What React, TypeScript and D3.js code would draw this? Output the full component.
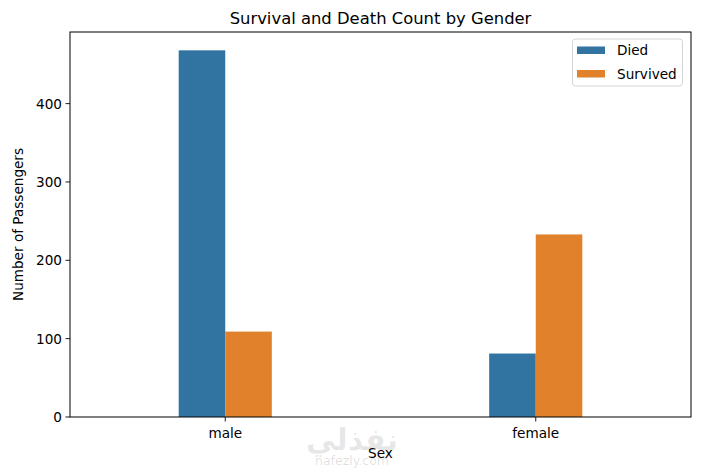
import React from "react";
import * as d3 from "d3";

const categories = ["male", "female"];
const seriesNames = ["Died", "Survived"];
const died = [468, 81];
const survived = [109, 233];
const yTicks = [0, 100, 200, 300, 400];
const colors = ["#3274a1", "#e1812c"];

const W = 705, H = 470;
const m = { left: 70, right: 691, top: 32, bottom: 417 };
const FONT = "DejaVu Sans, sans-serif";
const FS = 13.6;

export default function App() {
  const x = d3.scaleLinear().domain([-0.5, categories.length - 0.5]).range([m.left, m.right]);
  const y = d3.scaleLinear().domain([0, 468 * 1.05]).range([m.bottom, m.top]);
  const series = [died, survived];
  const barW = 0.15;
  return (
    <svg width={W} height={H} style={{ position: "absolute", left: 0, top: 0, background: "#fff" }} fontFamily={FONT}>
      <rect x={0} y={0} width={W} height={H} fill="#fff" />
      {series.map((vals, s) =>
        vals.map((v, i) => {
          const x0 = x(i - barW + s * barW);
          const x1 = x(i + s * barW);
          return <rect key={`${s}-${i}`} x={x0} y={y(v)} width={x1 - x0} height={y(0) - y(v)} fill={colors[s]} />;
        })
      )}
      <rect x={m.left} y={m.top} width={m.right - m.left} height={m.bottom - m.top} fill="none" stroke="#000" strokeWidth={1} />
      {yTicks.map((t) => (
        <g key={t}>
          <line x1={m.left - 4.5} x2={m.left} y1={y(t)} y2={y(t)} stroke="#000" strokeWidth={0.9} />
          <text x={m.left - 8} y={y(t)} dy="0.36em" textAnchor="end" fontSize={FS} fill="#000">{t}</text>
        </g>
      ))}
      {categories.map((c, i) => (
        <g key={c}>
          <line x1={x(i)} x2={x(i)} y1={m.bottom} y2={m.bottom + 4.5} stroke="#000" strokeWidth={0.9} />
          <text x={x(i)} y={m.bottom + 20.5} textAnchor="middle" fontSize={FS} fill="#000">{c}</text>
        </g>
      ))}
      <text x={352} y={450} textAnchor="middle" fontSize={30} fontWeight="bold" fill="#000" fillOpacity={0.1}>نفذلي</text>
      <text x={352} y={465} textAnchor="middle" fontSize={12.5} fill="#000" fillOpacity={0.13}>nafezly.com</text>
      <text x={(m.left + m.right) / 2} y={457.5} textAnchor="middle" fontSize={FS} fill="#000">Sex</text>
      <text transform={`translate(23,${(m.top + m.bottom) / 2}) rotate(-90)`} textAnchor="middle" fontSize={FS} fill="#000">Number of Passengers</text>
      <text x={(m.left + m.right) / 2} y={24} textAnchor="middle" fontSize={16.4} fill="#000">Survival and Death Count by Gender</text>
      <g>
        <rect x={572.5} y={39} width={110} height={47} rx={3} fill="#fff" fillOpacity={0.8} stroke="#d0d0d0" strokeWidth={0.9} />
        {seriesNames.map((n, i) => (
          <g key={n}>
            <rect x={577} y={46.5 + i * 23.5} width={28} height={7.5} fill={colors[i]} />
            <text x={617} y={50.5 + i * 23.5} dy="0.36em" fontSize={FS} fill="#000">{n}</text>
          </g>
        ))}
      </g>
    </svg>
  );
}
